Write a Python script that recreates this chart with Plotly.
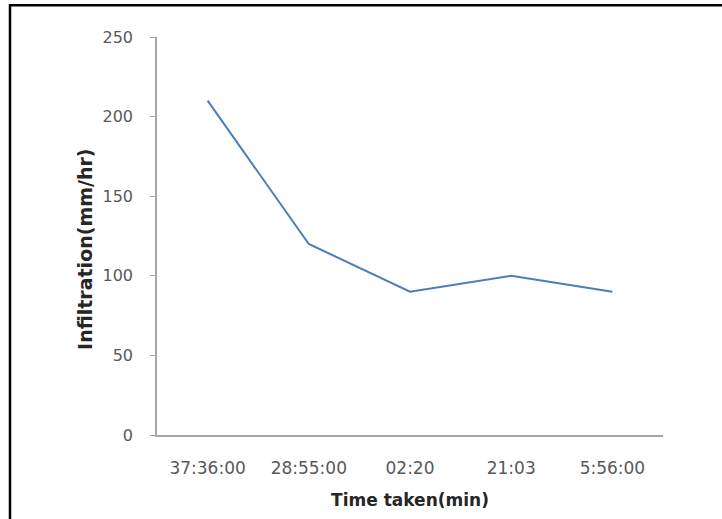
import plotly.graph_objects as go

# Infiltration rate measured against elapsed time
time_labels = ["37:36:00", "28:55:00", "02:20", "21:03", "5:56:00"]
infiltration = [210, 120, 90, 100, 90]
y_ticks = [0, 50, 100, 150, 200, 250]

W, H = 722, 519
L, R, T, B = 157, 59, 37, 82
pw, ph = W - L - R, H - T - B


def px_x(x):
    return (x - L) / pw


def px_y(y):
    return (H - B - y) / ph


fig = go.Figure()
fig.add_trace(go.Scatter(
    x=time_labels,
    y=infiltration,
    mode="lines",
    line=dict(color="#4A7EBB", width=2),
    showlegend=False,
))

font_family = "'DejaVu Sans', sans-serif"
tick_color = "#595959"
title_color = "#262626"

fig.update_layout(
    width=W,
    height=H,
    margin=dict(l=L, r=R, t=T, b=B),
    paper_bgcolor="white",
    plot_bgcolor="white",
    font=dict(family=font_family, size=17, color=tick_color),
    xaxis=dict(
        type="category",
        range=[-0.5, 4.5],
        showline=True,
        linecolor="#A6A6A6",
        linewidth=1.5,
        showgrid=False,
        zeroline=False,
        ticks="",
        ticklabelstandoff=17,
        tickfont=dict(size=17, color=tick_color),
        title=dict(text="<b>Time taken(min)</b>", font=dict(size=17, color=title_color), standoff=17),
    ),
    yaxis=dict(
        range=[0, 250],
        tickvals=y_ticks,
        showline=True,
        linecolor="#A6A6A6",
        linewidth=1.5,
        showgrid=False,
        zeroline=False,
        ticks="outside",
        ticklen=5,
        tickcolor="#A6A6A6",
        ticklabelstandoff=14,
        tickfont=dict(size=16, color=tick_color),
    ),
    annotations=[
        dict(
            text="<b>Infiltration(mm/hr)</b>",
            xref="paper", yref="paper",
            x=px_x(85), y=px_y(251),
            xanchor="center", yanchor="middle",
            textangle=-90,
            showarrow=False,
            font=dict(size=19, color=title_color),
        )
    ],
    shapes=[
        dict(
            type="rect",
            xref="paper", yref="paper",
            x0=px_x(10), x1=px_x(730),
            y0=px_y(530), y1=px_y(5),
            line=dict(color="black", width=2.5),
            fillcolor="rgba(0,0,0,0)",
            layer="above",
        )
    ],
)

fig.write_html("out.html")
